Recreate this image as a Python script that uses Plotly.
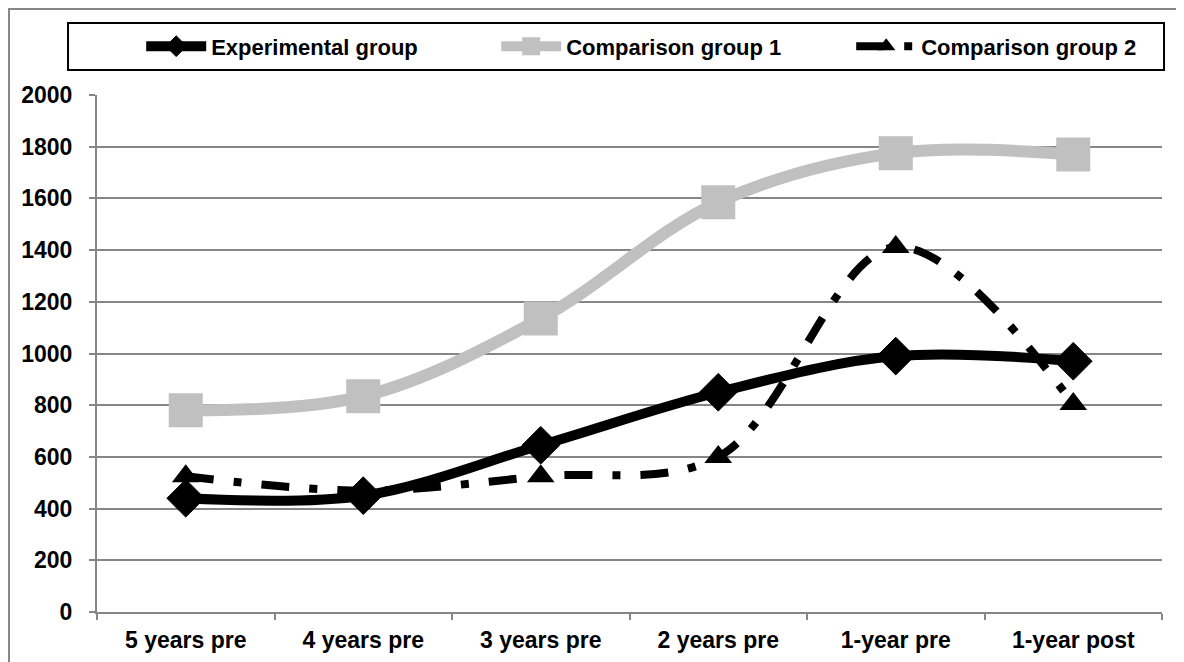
import plotly.graph_objects as go

categories = ["5 years pre", "4 years pre", "3 years pre", "2 years pre", "1-year pre", "1-year post"]
experimental = [440, 450, 645, 850, 990, 970]
comparison1 = [780, 835, 1135, 1585, 1775, 1770]
comparison2 = [525, 470, 525, 600, 1412, 805]
y_ticks = [0, 200, 400, 600, 800, 1000, 1200, 1400, 1600, 1800, 2000]

FONT = "Liberation Sans, Arial, sans-serif"
GRID = "#868686"

fig = go.Figure()
fig.add_trace(go.Scatter(
    x=categories, y=experimental, name="Experimental group",
    mode="lines+markers", line=dict(color="black", width=10, shape="spline", smoothing=1),
    marker=dict(symbol="diamond", size=29, color="black", line=dict(color="black", width=1)),
))
fig.add_trace(go.Scatter(
    x=categories, y=comparison1, name="Comparison group 1",
    mode="lines+markers", line=dict(color="#C0C0C0", width=12, shape="spline", smoothing=1),
    marker=dict(symbol="square", size=32, color="#C0C0C0", line=dict(color="#C0C0C0", width=2)),
))
fig.add_trace(go.Scatter(
    x=categories, y=comparison2, name="Comparison group 2",
    mode="lines+markers", line=dict(color="black", width=8, shape="spline", smoothing=1,
                                    dash="28px,20px,8px,20px"),
    marker=dict(symbol="triangle-up", size=24, color="black"),
))

fig.update_layout(
    width=1184, height=662,
    margin=dict(l=89, r=30, t=87, b=58, autoexpand=False),
    paper_bgcolor="white", plot_bgcolor="white",
    font=dict(family=FONT, size=22, color="black"),
    showlegend=True,
    legend=dict(
        orientation="h", x=0.0415, xanchor="left", y=1.094, yanchor="middle",
        font=dict(family=FONT, size=22, color="black", weight="bold"),
        itemwidth=60, entrywidth=280, entrywidthmode="pixels",
        bgcolor="rgba(0,0,0,0)", borderwidth=0,
    ),
    shapes=[
        dict(type="rect", xref="paper", yref="paper", x0=-0.0272, x1=1.0019, y0=1.0484, y1=1.1393,
             line=dict(color="black", width=2), layer="below"),
        dict(type="rect", xref="paper", yref="paper", x0=-0.0826, x1=1.0178, y0=-0.13, y1=1.1663,
             line=dict(color=GRID, width=2), layer="below"),
    ],
)

fig.update_xaxes(
    type="category", showgrid=False, showline=True, linecolor=GRID, linewidth=2,
    ticks="outside", tickson="boundaries", ticklen=6, tickcolor=GRID, tickwidth=1.5,
    tickfont=dict(family=FONT, size=23, color="black", weight="bold"),
    ticklabelstandoff=6, range=[-0.5, 5.5],
)
fig.update_yaxes(
    range=[0, 2000], tickvals=y_ticks, showgrid=True, gridcolor=GRID, gridwidth=1.5,
    showline=True, linecolor=GRID, linewidth=2, zeroline=False,
    ticks="outside", ticklen=6, tickcolor=GRID, tickwidth=1.5,
    tickfont=dict(family=FONT, size=23, color="black", weight="bold"),
    ticklabelstandoff=12,
)

fig.write_html("out.html")
